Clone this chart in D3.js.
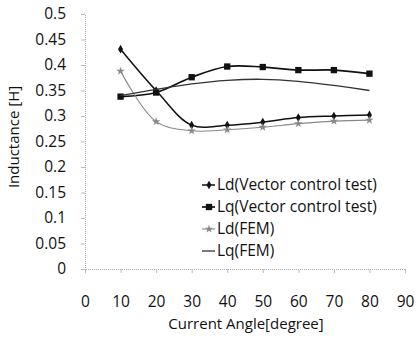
<!DOCTYPE html>
<html>
<head>
<meta charset="utf-8">
<script src="https://cdn.jsdelivr.net/npm/d3@7"></script>
<style>
  body { margin: 0; background: #fff; }
  text { font-family: "Open Sans", sans-serif; fill: #111; }
</style>
</head>
<body>
<div id="chart"></div>
<script>
// angles (degree)
const angles = [10, 20, 30, 40, 50, 60, 70, 80];
const ldTest = [0.431, 0.350, 0.282, 0.282, 0.288, 0.297, 0.300, 0.302];
const lqTest = [0.338, 0.346, 0.376, 0.397, 0.396, 0.390, 0.390, 0.383];
const ldFem = [0.388, 0.289, 0.271, 0.273, 0.278, 0.285, 0.290, 0.292];
const lqFem = [0.340, 0.352, 0.363, 0.370, 0.372, 0.368, 0.360, 0.350];
const seriesNames = ['Ld(Vector control test)', 'Lq(Vector control test)', 'Ld(FEM)', 'Lq(FEM)'];
const xTicks = [0, 10, 20, 30, 40, 50, 60, 70, 80, 90];
const yTicks = [0, 0.05, 0.1, 0.15, 0.2, 0.25, 0.3, 0.35, 0.4, 0.45, 0.5];

const W = 416, H = 338;
const margin = {top: 14, right: 11, bottom: 69, left: 85};

const svg = d3.select('#chart').append('svg')
    .attr('width', W)
    .attr('height', H);

const x = d3.scaleLinear().domain([0, 90]).range([margin.left, W - margin.right]);
const y = d3.scaleLinear().domain([0, 0.5]).range([H - margin.bottom, margin.top]);

// axes
const xAxis = svg.append('g')
    .attr('transform', `translate(0,${y(0)})`)
    .call(d3.axisBottom(x).tickValues(xTicks).tickSize(4).tickPadding(23));
const yAxis = svg.append('g')
    .attr('transform', `translate(${x(0)},0)`)
    .call(d3.axisLeft(y).tickValues(yTicks).tickSize(4).tickPadding(15)
      .tickFormat(d => d3.format('')(+d.toFixed(2))));

[xAxis, yAxis].forEach(a => {
  a.select('.domain').attr('stroke', '#aaa').attr('stroke-dasharray', '1,1');
  a.selectAll('.tick line').attr('stroke', '#bbb');
  a.selectAll('.tick text').style('font-size', '15.5px').attr('fill', '#111');
});

svg.append('text')
    .attr('transform', 'translate(19,137) rotate(-90)')
    .attr('text-anchor', 'middle')
    .style('font-size', '15px')
    .text('Inductance [H]');

svg.append('text')
    .attr('x', 246)
    .attr('y', 329)
    .attr('text-anchor', 'middle')
    .style('font-size', '15px')
    .text('Current Angle[degree]');

const line = d3.line()
    .x(d => x(d[0]))
    .y(d => y(d[1]))
    .curve(d3.curveCatmullRom.alpha(0.5));

const series = [
  {name: seriesNames[0], values: ldTest, color: '#111', width: 1.5, marker: 'diamond'},
  {name: seriesNames[1], values: lqTest, color: '#111', width: 1.7, marker: 'square'},
  {name: seriesNames[2], values: ldFem, color: '#888', width: 1.1, marker: 'star'},
  {name: seriesNames[3], values: lqFem, color: '#333', width: 1.3, marker: null}
];

const markerPath = {
  diamond: d3.symbol(d3.symbolDiamond, 22),
  square: d3.symbol(d3.symbolSquare, 40),
  star: d3.symbol(d3.symbolStar, 22)
};

series.forEach(s => {
  const pts = angles.map((a, i) => [a, s.values[i]]);
  svg.append('path')
      .datum(pts)
      .attr('d', line)
      .attr('fill', 'none')
      .attr('stroke', s.color)
      .attr('stroke-width', s.width);
  if (s.marker) {
    svg.selectAll(null)
        .data(pts)
      .join('path')
        .attr('transform', d => `translate(${x(d[0])},${y(d[1])})`)
        .attr('d', markerPath[s.marker])
        .attr('fill', s.color);
  }
});

// legend
const legend = svg.append('g').attr('transform', 'translate(202,0)');
const legendY = [185, 207, 229, 251];
series.forEach((s, i) => {
  const g = legend.append('g').attr('transform', `translate(0,${legendY[i]})`);
  g.append('line')
      .attr('x1', 0).attr('x2', 13)
      .attr('stroke', s.color)
      .attr('stroke-width', s.width);
  if (s.marker) {
    g.append('path')
        .attr('transform', 'translate(7,0)')
        .attr('d', markerPath[s.marker])
        .attr('fill', s.color);
  }
  g.append('text')
      .attr('x', 15)
      .attr('dy', '0.35em')
      .style('font-size', '15.5px')
      .text(s.name);
});
</script>
</body>
</html>
